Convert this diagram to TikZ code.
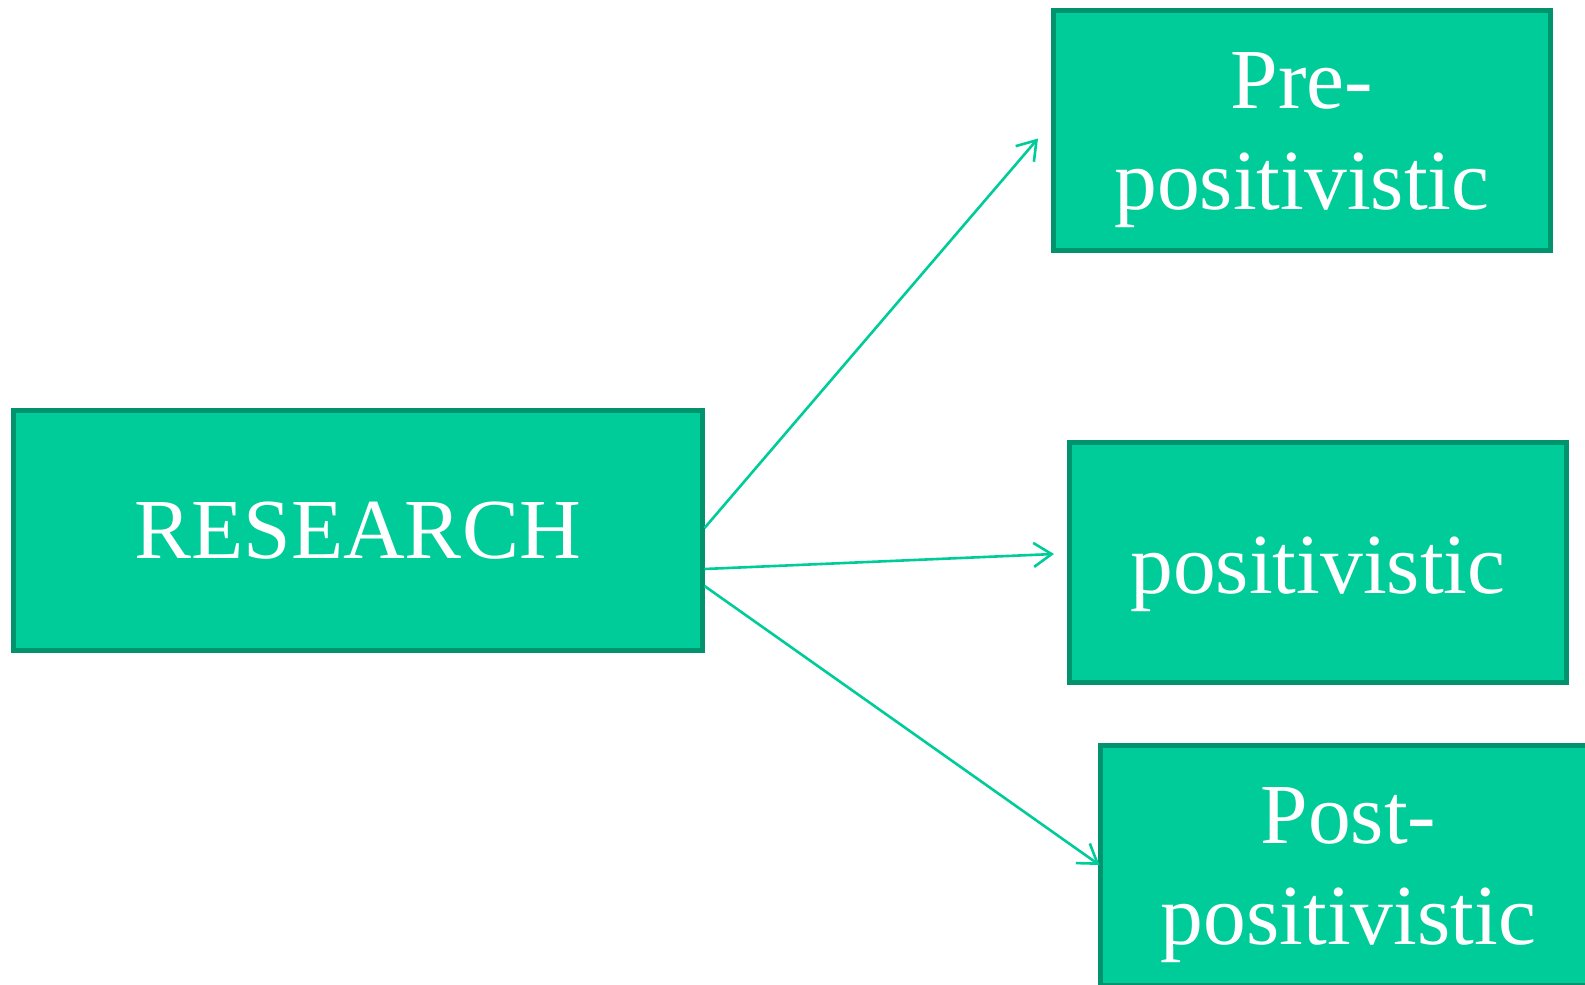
\documentclass[tikz,border=0pt]{standalone}
\usepackage{fontspec}
\setmainfont{Liberation Serif}
\usetikzlibrary{arrows.meta}
\definecolor{boxfill}{RGB}{0,204,153}
\definecolor{boxedge}{RGB}{0,147,110}
\tikzset{
  box/.style={draw=boxedge, fill=boxfill, line width=5pt, inner sep=0pt},
  boxtext/.style={text=white, align=center, inner sep=0pt,
    font=\fontsize{85.5}{101}\selectfont},
  link/.style={draw=boxfill, line width=2.6pt,
    -{Straight Barb[length=18pt,width=24pt,line width=2.6pt]}}
}
\begin{document}
\begin{tikzpicture}[x=1pt,y=-1pt]
\useasboundingbox (0,0) rectangle (1585,985);
\node[box, minimum width=689pt, minimum height=240pt] (res) at (357.5,530) {};
\node[box, minimum width=497pt, minimum height=240pt] (pre) at (1302,130.5) {};
\node[box, minimum width=497pt, minimum height=240pt] (pos) at (1318,562) {};
\node[box, minimum width=497pt, minimum height=240pt] (post) at (1348.5,865) {};
\node[boxtext] (tres) at ([yshift=-1pt]res.center) {RESEARCH};
\node[boxtext] (tpre) at ([yshift=-10pt]pre.center) {Pre-\\positivistic};
\node[boxtext] (tpos) at ([yshift=-12pt]pos.center) {positivistic};
\node[boxtext] (tpost) at ([yshift=-10pt]post.center) {Post-\\positivistic};
\coordinate (s1) at ([yshift=2pt]res.east);
\coordinate (s2) at ([yshift=-39pt]res.east);
\coordinate (s3) at ([yshift=-56pt]res.east);
\coordinate (e1) at ([xshift=-13pt,yshift=-8pt]pre.west);
\coordinate (e2) at ([xshift=-13pt,yshift=8pt]pos.west);
\coordinate (e3) at ([xshift=2pt]post.west);
\draw[link] (s1) -- (e1);
\draw[link] (s2) -- (e2);
\draw[link] (s3) -- (e3);
\end{tikzpicture}
\end{document}
